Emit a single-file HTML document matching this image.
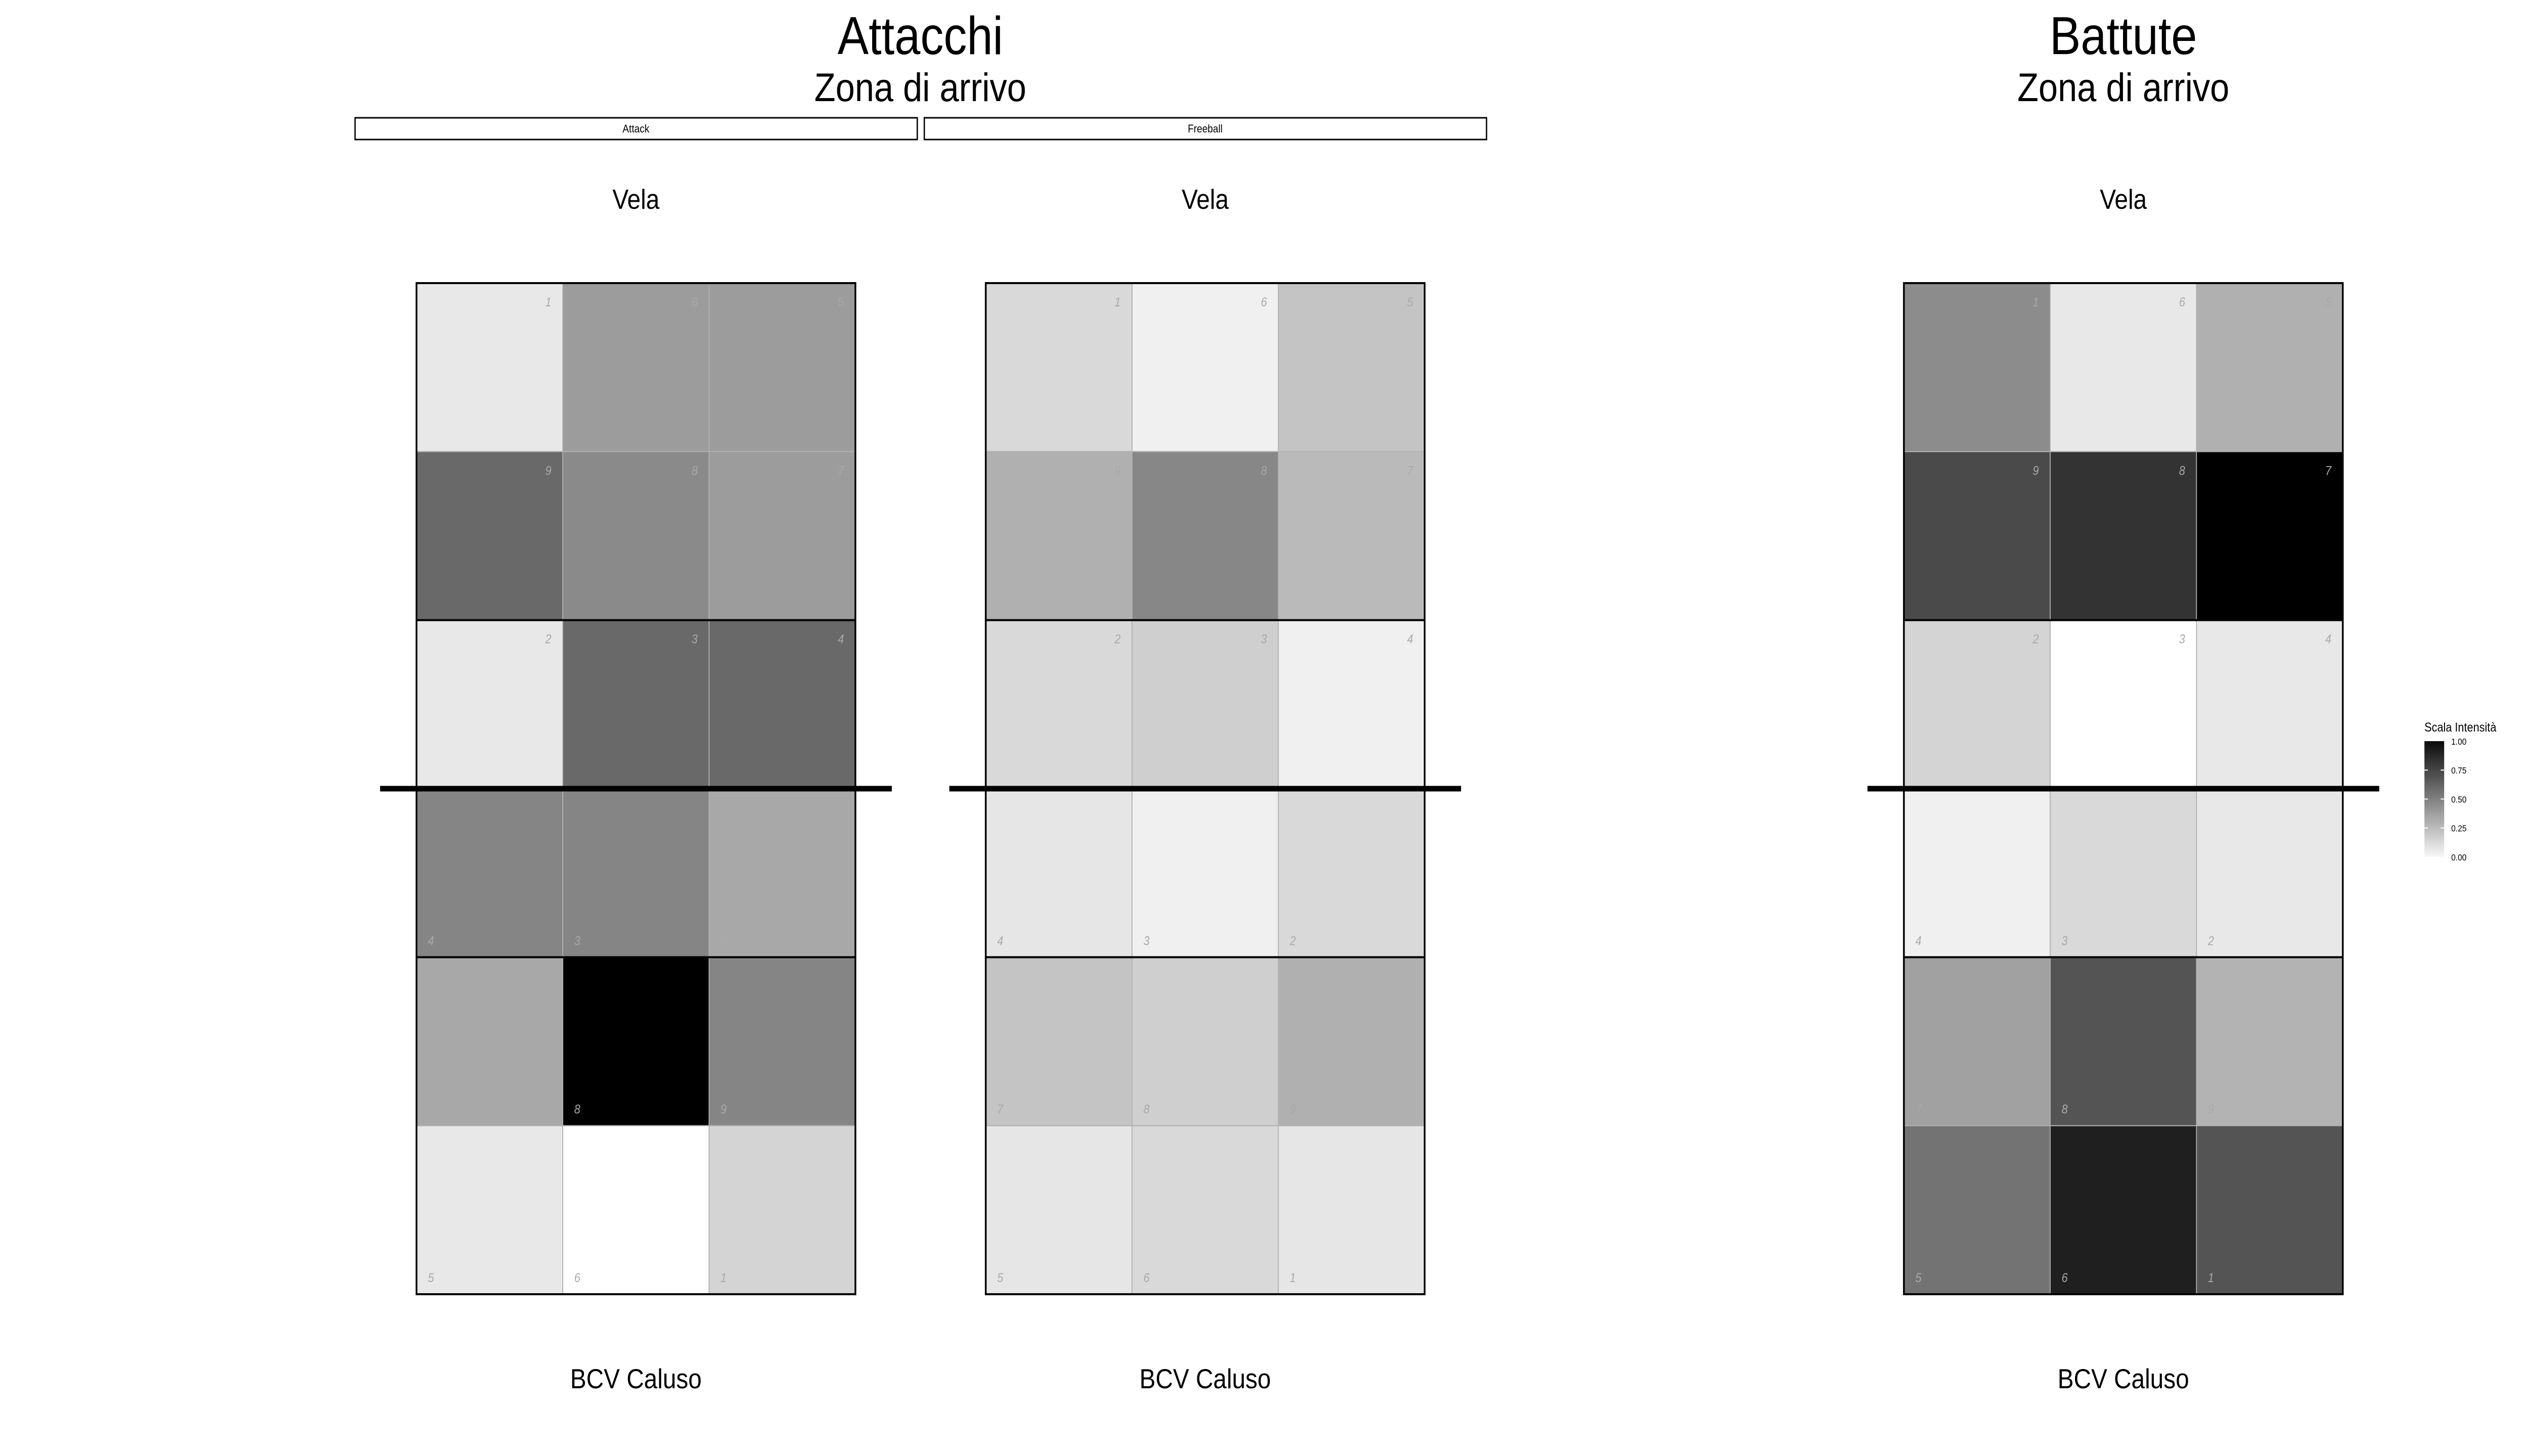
<!DOCTYPE html>
<html><head><meta charset="utf-8"><style>
html,body{margin:0;padding:0;background:#fff;width:100%;height:100%;overflow:hidden;}
svg{display:block;font-family:"Liberation Sans",Arial,sans-serif;width:100vw;height:100vh;}
</style></head><body>
<svg id="chart" viewBox="0 0 5760 2880" preserveAspectRatio="none" xmlns="http://www.w3.org/2000/svg">
<rect width="5760" height="2880" fill="#fff"/>
<text x="2097" y="107" font-size="106" text-anchor="middle">Attacchi</text>
<text x="2097" y="200" font-size="79" text-anchor="middle">Zona di arrivo</text>
<text x="4838" y="107" font-size="106" text-anchor="middle">Battute</text>
<text x="4838" y="200" font-size="79" text-anchor="middle">Zona di arrivo</text>
<g>
<rect x="809" y="233" width="1281" height="43" fill="#fff" stroke="#000" stroke-width="3"/>
<text x="1449" y="262" font-size="22" text-anchor="middle">Attack</text>
</g>
<g>
<rect x="2106" y="233" width="1281" height="43" fill="#fff" stroke="#000" stroke-width="3"/>
<text x="2746" y="262" font-size="22" text-anchor="middle">Freeball</text>
</g>
<g id="panels"></g>
<g>
<defs><linearGradient id="lg" x1="0" y1="1" x2="0" y2="0">
<stop offset="0" stop-color="#f7f7f7"/><stop offset="1" stop-color="#0a0a0a"/></linearGradient></defs>
<text x="5524" y="1447" font-size="25">Scala Intensità</text>
<rect x="5524" y="1466" width="45" height="229" fill="url(#lg)"/>
<g id="legticks"></g>
</g>
</svg>
<script>
const cellValuesAttack = [0.09,0.39,0.39, 0.59,0.46,0.39, 0.09,0.59,0.59, 0.48,0.48,0.34, 0.34,1.0,0.48, 0.09,0,0.17];
const cellValuesFreeball = [0.15,0.06,0.23, 0.31,0.47,0.27, 0.15,0.19,0.06, 0.10,0.06,0.15, 0.23,0.19,0.31, 0.10,0.15,0.10];
const cellValuesBattute = [0.45,0.09,0.31, 0.71,0.80,1.0, 0.17,0,0.09, 0.06,0.15,0.09, 0.37,0.67,0.30, 0.55,0.88,0.67];
const zoneLabels = [1,6,5, 9,8,7, 2,3,4, 4,3,2, 7,8,9, 5,6,1];
const legendTicks = [0, 0.25, 0.5, 0.75, 1];
const legendTickLabels = ["0.00","0.25","0.50","0.75","1.00"];

const NS = "http://www.w3.org/2000/svg";
function mk(tag, attrs, parent){const e=document.createElementNS(NS,tag);for(const k in attrs)e.setAttribute(k,attrs[k]);parent.appendChild(e);return e;}
function grey(v){const l=Math.round(255*(1-v));return `rgb(${l},${l},${l})`;}
const CELL=1000/3, TOP=560;
function drawPanel(x0, values, name){
  const g=mk('g',{},document.getElementById('panels'));
  
  
  const cx=x0+500;
  const t1=mk('text',{x:cx,y:413,'font-size':55,'text-anchor':'middle'},g);t1.textContent='Vela';
  
  
  const t2=mk('text',{x:cx,y:2746,'font-size':55,'text-anchor':'middle'},g);t2.textContent='BCV Caluso';
  
  
  values.forEach((v,i)=>{
    const r=Math.floor(i/3), c=i%3;
    const x=x0+c*CELL, y=TOP+r*CELL;
    const rc=mk('rect',{x:x,y:y,width:CELL,height:CELL,fill:grey(v),stroke:'#b0b0b0','stroke-width':2},g);
    
    
    const top=r<3;
    const tx=mk('text',{x:top?x+CELL-26:x+26,y:top?y+46:y+CELL-24,'font-size':25,'font-style':'italic',fill:'#a9a9a9','text-anchor':top?'end':'start'},g);
    tx.textContent=zoneLabels[i];
    
    
  });
  mk('line',{x1:x0,x2:x0+1000,y1:TOP+2*CELL,y2:TOP+2*CELL,stroke:'#000','stroke-width':4},g);
  mk('line',{x1:x0,x2:x0+1000,y1:TOP+4*CELL,y2:TOP+4*CELL,stroke:'#000','stroke-width':4},g);
  mk('rect',{x:x0,y:TOP,width:1000,height:2000,fill:'none',stroke:'#000','stroke-width':4},g);
  const net=mk('line',{x1:x0-83,x2:x0+1083,y1:TOP+1000,y2:TOP+1000,stroke:'#000','stroke-width':11},g);
  
  
}
drawPanel(949, cellValuesAttack, 'attack');
drawPanel(2246, cellValuesFreeball, 'freeball');
drawPanel(4338, cellValuesBattute, 'battute');
const lt=document.getElementById('legticks');
legendTicks.forEach((t,i)=>{
  const y=1695-t*229;
  if(t>0&&t<1){
    mk('line',{x1:5524,x2:5532,y1:y,y2:y,stroke:'#fff','stroke-width':2},lt);
    mk('line',{x1:5561,x2:5569,y1:y,y2:y,stroke:'#fff','stroke-width':2},lt);
  }
  const tx=mk('text',{x:5585,y:y+7,'font-size':18},lt);
  tx.textContent=legendTickLabels[i];
  
  
});
</script>
</body></html>
